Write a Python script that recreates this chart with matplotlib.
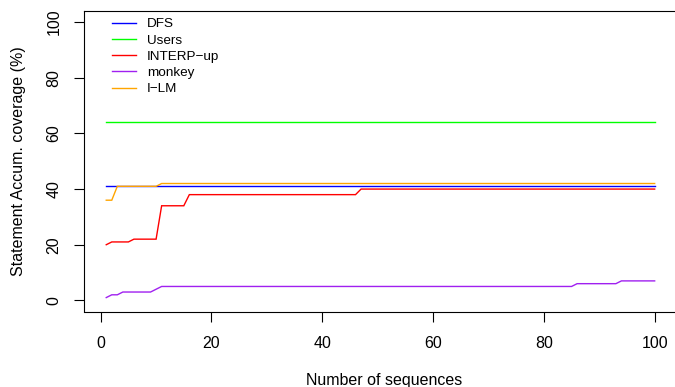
import matplotlib
matplotlib.use("Agg")
import matplotlib.pyplot as plt

# Data (vertices of each series)
dfs_x = [1, 100]
dfs_y = [41, 41]
users_x = [1, 100]
users_y = [64, 64]
interp_x = [1, 2, 5, 6, 10, 11, 15, 16, 46, 47, 100]
interp_y = [20, 21, 21, 22, 22, 34, 34, 38, 38, 40, 40]
monkey_x = [1, 2, 3, 4, 9, 10, 11, 85, 86, 93, 94, 100]
monkey_y = [1, 2, 2, 3, 3, 4, 5, 5, 6, 6, 7, 7]
ilm_x = [1, 2, 3, 10, 11, 100]
ilm_y = [36, 36, 41, 41, 42, 42]

labels = ["DFS", "Users", "INTERP\u2212up", "monkey", "I\u2212LM"]
colors = ["#0000FF", "#00FF00", "#FF0000", "#A020F0", "#FFA500"]
xticks = [0, 20, 40, 60, 80, 100]
yticks = [0, 20, 40, 60, 80, 100]

plt.rcParams['font.family'] = ['Liberation Sans', 'DejaVu Sans']

W, H = 675, 387
fig = plt.figure(figsize=(W / 100, H / 100), dpi=100)
ax_l, ax_r, ax_t, ax_b = 84.3, 676.6, 11.0, 311.5
ax = fig.add_axes([ax_l / W, 1 - ax_b / H, (ax_r - ax_l) / W, (ax_b - ax_t) / H])

series = [(dfs_x, dfs_y), (users_x, users_y), (interp_x, interp_y),
          (monkey_x, monkey_y), (ilm_x, ilm_y)]
for (xs, ys), lab, col in zip(series, labels, colors):
    ax.plot(xs, ys, color=col, lw=1.0, label=lab, solid_joinstyle='miter')

ax.set_xlim(-2.96, 103.96)
ax.set_ylim(-4, 104)
ax.set_xticks(xticks)
ax.set_yticks(yticks)
fs = 11.5
ax.tick_params(axis='both', direction='out', length=6.9, width=0.8, labelsize=fs, color='black')
ax.tick_params(axis='x', pad=11)
ax.tick_params(axis='y', pad=9.5)
for lbl in ax.get_yticklabels():
    lbl.set_rotation(90)
    lbl.set_va('center')
for sp in ax.spines.values():
    sp.set_linewidth(0.8)

ax.set_xlabel("Number of sequences", fontsize=fs)
ax.set_ylabel("Statement Accum. coverage (%)", fontsize=fs)
ax.xaxis.set_label_coords((384 - ax_l) / (ax_r - ax_l), -(381 - ax_b) / (ax_b - ax_t))
ax.xaxis.label.set_va('center')
ax.yaxis.set_label_coords((19 - ax_l) / (ax_r - ax_l), (ax_b - 161) / (ax_b - ax_t))
ax.yaxis.label.set_va('center')

leg = ax.legend(loc='upper left', bbox_to_anchor=(111.7 / W, 1 - 18 / H),
                bbox_transform=fig.transFigure, frameon=False, fontsize=9.7,
                handlelength=1.8, handletextpad=0.82, labelspacing=0.28,
                borderpad=0, borderaxespad=0)

fig.savefig("out.png", dpi=100)
